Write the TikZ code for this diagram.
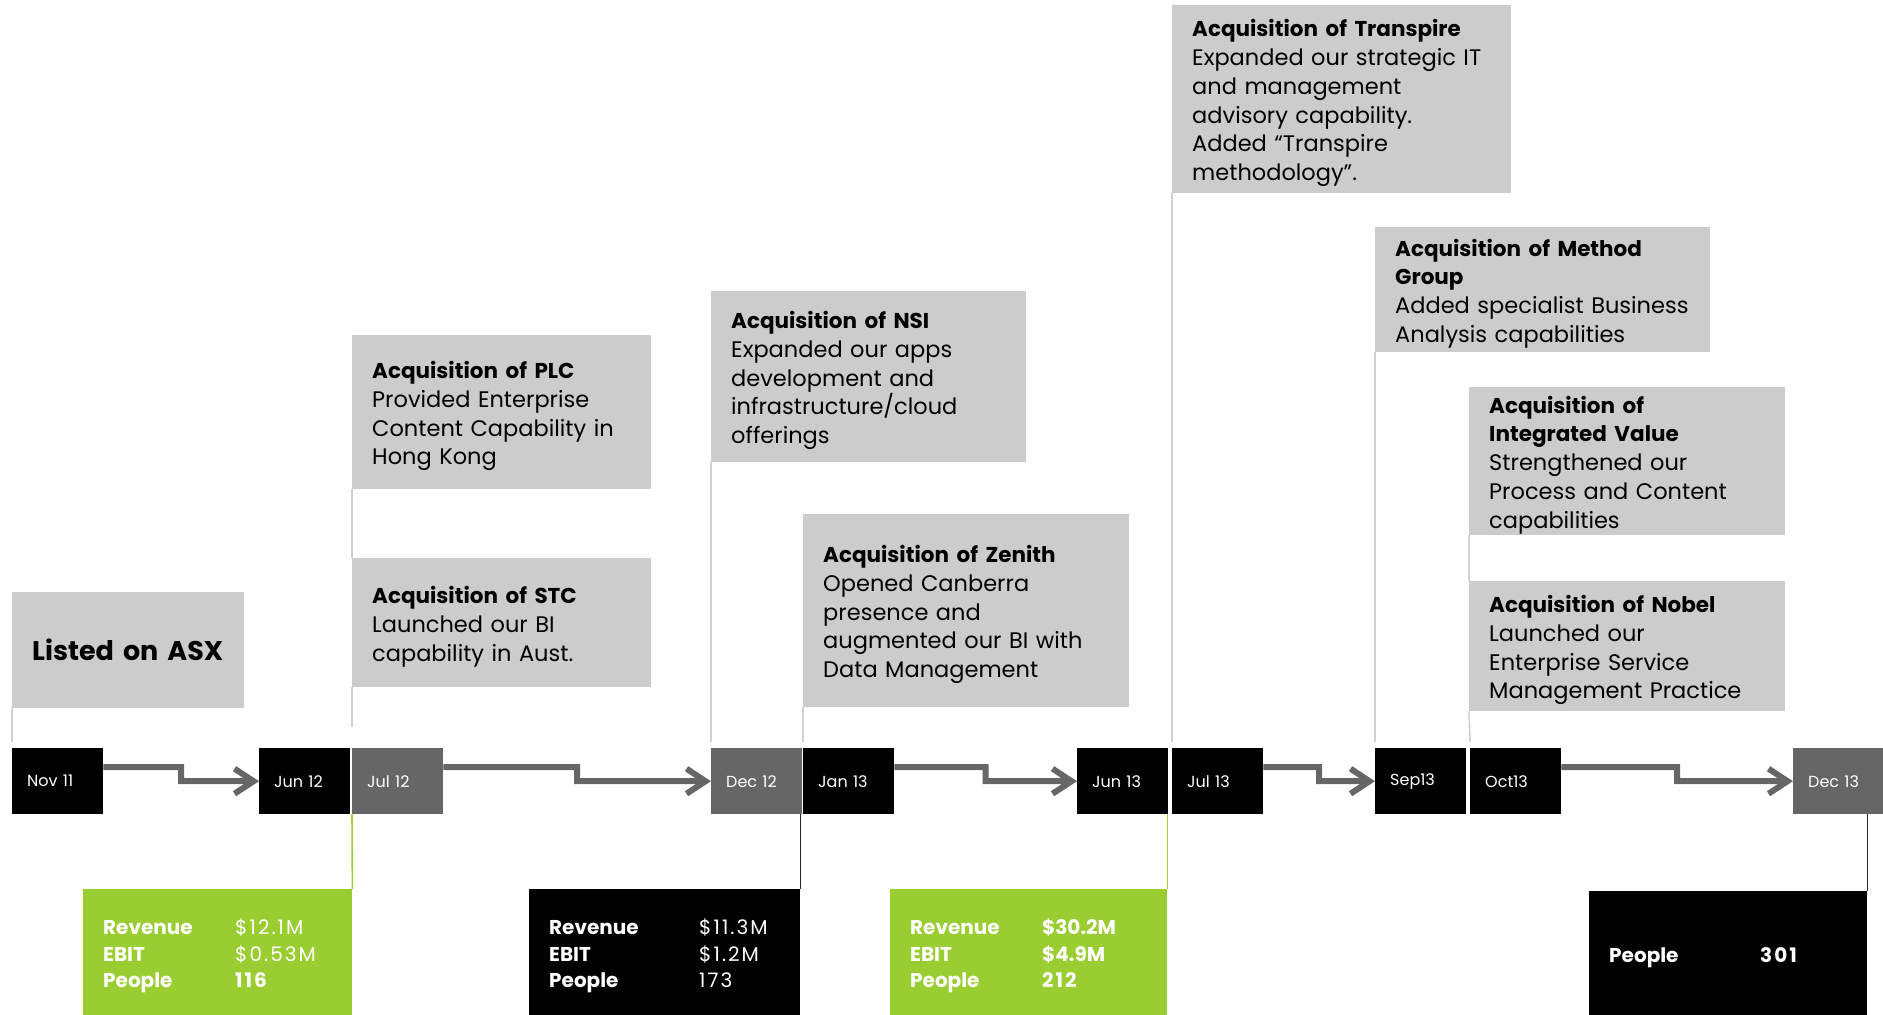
\documentclass[tikz,border=0pt]{standalone}
\usepackage{fontspec}
\setmainfont{Poppins}
\usetikzlibrary{arrows.meta,calc}
\definecolor{boxgray}{HTML}{CCCCCC}
\definecolor{tlgray}{HTML}{666666}
\definecolor{stgreen}{HTML}{9ACD32}
\definecolor{linegray}{HTML}{D0D0D0}
\newcommand{\ttl}[1]{{\fontsize{21.5}{28.8}\selectfont\bfseries #1}}
\newcommand{\tstrut}{\rule{0pt}{25pt}}
\newcommand{\sstrut}{\rule{0pt}{23pt}}
\newcommand{\wval}[1]{{\addfontfeature{LetterSpace=10}#1}}
\begin{document}
\begin{tikzpicture}[x=1pt,y=-1pt,
  callout/.style={fill=boxgray, anchor=north west, inner xsep=20pt, inner ysep=0pt, align=left, font=\fontsize{22.5}{28.8}\selectfont, text=black},
  tl/.style={anchor=north west, minimum height=66pt, text width=61pt, inner xsep=15pt, inner ysep=0pt, font=\fontsize{16}{18}\selectfont, text=white, align=left, fill=black},
  tlg/.style={tl, fill=tlgray},
  stat/.style={anchor=north west, inner xsep=20pt, inner ysep=0pt, align=left, font=\fontsize{20}{26.4}\selectfont, text=white},
  conn/.style={draw=linegray, line width=1.6pt},
  tlarrow/.style={draw=tlgray, line width=6pt, -{Straight Barb[length=19pt,width=25pt]}},
]
\useasboundingbox (0,0) rectangle (1883,1015);

% timeline boxes
\node[tl]  (nov)   at (12,748)   {Nov 11};
\node[tl]  (jun12) at (259,748)  {Jun 12};
\node[tlg] (jul12) at (352,748)  {Jul 12};
\node[tlg] (dec12) at (711,748)  {Dec 12};
\node[tl]  (jan13) at (803,748)  {Jan 13};
\node[tl]  (jun13) at (1077,748) {Jun 13};
\node[tl]  (jul13) at (1172,748) {Jul 13};
\node[tl]  (sep13) at (1375,748) {Sep13};
\node[tl]  (oct13) at (1470,748) {Oct13};
\node[tlg, text width=60pt] (dec13) at (1793,748) {Dec 13};

% arrows
\draw[tlarrow] ($(nov.east)+(0,-14)$) -| ($(nov.east)!.5!(jun12.west)$) -- (jun12.west);
\draw[tlarrow] ($(jul12.east)+(0,-14)$) -| ($(jul12.east)!.5!(dec12.west)$) -- (dec12.west);
\draw[tlarrow] ($(jan13.east)+(0,-14)$) -| ($(jan13.east)!.5!(jun13.west)$) -- (jun13.west);
\draw[tlarrow] ($(jul13.east)+(0,-14)$) -| ($(jul13.east)!.5!(sep13.west)$) -- (sep13.west);
\draw[tlarrow] ($(oct13.east)+(0,-14)$) -| ($(oct13.east)!.5!(dec13.west)$) -- (dec13.west);

% callouts
\node[callout, text width=192pt, minimum height=116pt, font=\bfseries\fontsize{27}{32}\selectfont] (asx) at (12,592) {Listed on ASX};
\node[callout, text width=259pt, minimum height=154pt] (plc) at (352,335)
  {\tstrut\ttl{Acquisition of PLC}\\Provided Enterprise\\Content Capability in\\Hong Kong};
\node[callout, text width=259pt, minimum height=129pt] (stc) at (352,558)
  {\tstrut\ttl{Acquisition of STC}\\Launched our BI\\capability in Aust.};
\node[callout, text width=275pt, minimum height=171pt] (nsi) at (711,291)
  {\tstrut\ttl{Acquisition of NSI}\\Expanded our apps\\development and\\infrastructure/cloud\\offerings};
\node[callout, text width=286pt, minimum height=193pt] (zen) at (803,514)
  {\tstrut\ttl{Acquisition of Zenith}\\Opened Canberra\\presence and\\augmented our BI with\\Data Management};
\node[callout, text width=299pt, minimum height=188pt] (tra) at (1172,5)
  {\tstrut\ttl{Acquisition of Transpire}\\Expanded our strategic IT\\and management\\advisory capability.\\Added “Transpire\\methodology”.};
\node[callout, text width=295pt, minimum height=125pt] (met) at (1375,227)
  {\tstrut\ttl{Acquisition of Method}\\\ttl{Group}\\Added specialist Business\\Analysis capabilities};
\node[callout, text width=276pt, minimum height=148pt] (iv) at (1469,387)
  {\tstrut\ttl{Acquisition of}\\\ttl{Integrated Value}\\Strengthened our\\Process and Content\\capabilities};
\node[callout, text width=276pt, minimum height=130pt] (nob) at (1469,581)
  {\tstrut\ttl{Acquisition of Nobel}\\Launched our\\Enterprise Service\\Management Practice};

% callout connectors
\draw[conn] (asx.south west) -- ($(nov.north west)+(0,-6)$);
\draw[conn] (plc.south west) -- (stc.north west);
\draw[conn] (stc.south west) -- ($(jul12.north west)+(0,-21)$);
\draw[conn] (nsi.south west) -- ($(dec12.north west)+(0,-6)$);
\draw[conn] (zen.south west) -- ($(jan13.north west)+(0,-6)$);
\draw[conn] (tra.south west) -- ($(jul13.north west)+(0,-6)$);
\draw[conn] (met.south west) -- ($(sep13.north west)+(0,-6)$);
\draw[conn] (iv.south west) -- (nob.north west);
\draw[conn] (nob.south west) -- ($(oct13.north west)+(0,-6)$);

% stats
\node[stat, fill=stgreen, text width=229pt, minimum height=126pt] (g1) at (83,889)
  {\sstrut\makebox[132pt][l]{\textbf{Revenue}}\wval{\$12.1M}\\\makebox[132pt][l]{\textbf{EBIT}}\wval{\$0.53M}\\\makebox[132pt][l]{\textbf{People}}\wval{\textbf{116}}};
\node[stat, fill=black, text width=231pt, minimum height=126pt] (b2) at (529,889)
  {\sstrut\makebox[150pt][l]{\textbf{Revenue}}\wval{\$11.3M}\\\makebox[150pt][l]{\textbf{EBIT}}\wval{\$1.2M}\\\makebox[150pt][l]{\textbf{People}}\wval{173}};
\node[stat, fill=stgreen, text width=237pt, minimum height=126pt] (g3) at (890,889)
  {\bfseries\sstrut\makebox[132pt][l]{Revenue}\$30.2M\\\makebox[132pt][l]{EBIT}\$4.9M\\\makebox[132pt][l]{People}\wval{212}};
\node[stat, fill=black, text width=238pt, minimum height=124pt] (b4) at (1589,891)
  {\bfseries\sstrut\makebox[151pt][l]{People}\wval{301}};

% stat connectors
\draw[draw=stgreen, line width=1.6pt] (jul12.south west) -- (g1.north east);
\draw[draw=black!85, line width=1.6pt] (b2.north east |- dec12.south) -- (b2.north east);
\draw[draw=stgreen, line width=1.6pt] (g3.north east |- jun13.south) -- (g3.north east);
\draw[draw=black!85, line width=1.6pt] (b4.north east |- dec13.south) -- (b4.north east);
\end{tikzpicture}
\end{document}
